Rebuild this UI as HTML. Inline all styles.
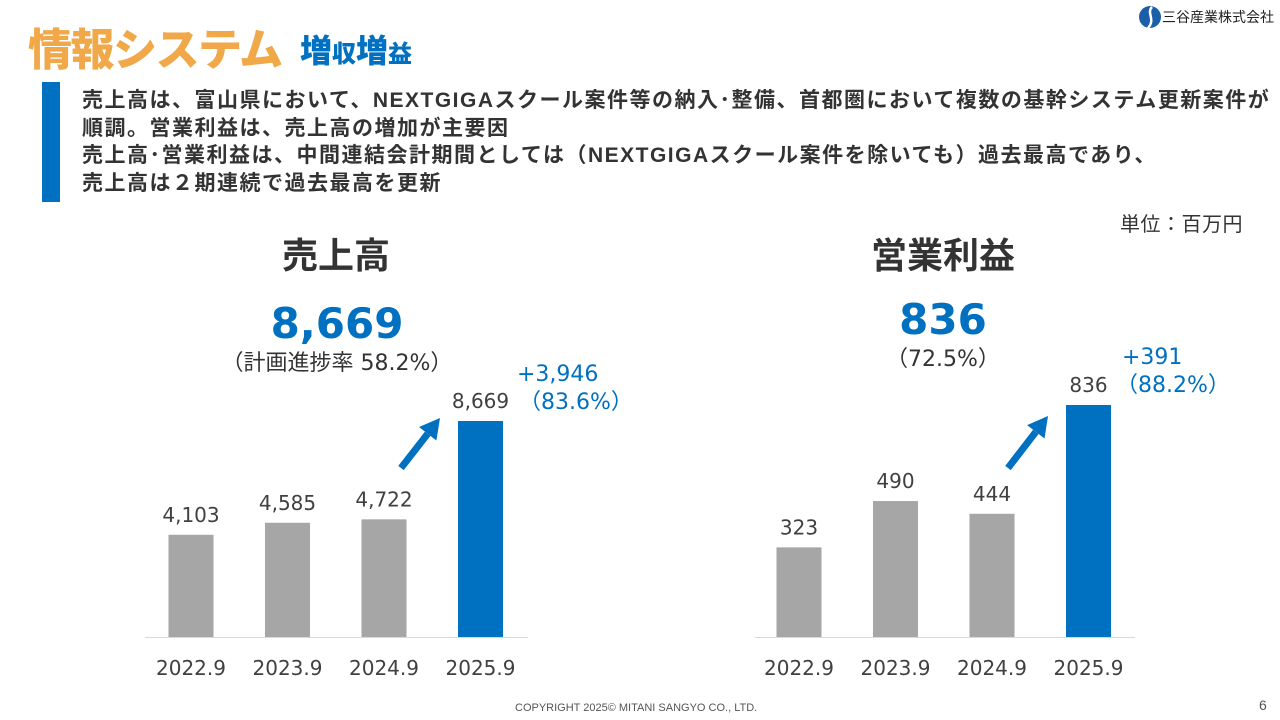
<!DOCTYPE html>
<html><head><meta charset="utf-8">
<style>
body{margin:0;width:1280px;height:720px;background:#fff;overflow:hidden;position:relative;font-family:"Liberation Sans","Noto Sans CJK JP",sans-serif}
.abs{position:absolute;white-space:nowrap}
.body{font-weight:bold;font-size:21px;letter-spacing:1.5px;color:#333;left:82px;line-height:27.7px;top:87px}
</style></head><body>
<div class="abs" style="left:28px;top:14px;font-size:44px;font-weight:900;color:#f0a848;letter-spacing:-1.5px">情報システム</div>
<div class="abs" style="left:300px;top:26px;font-weight:900;color:#0070c0;font-size:32px">増<span style="font-size:24px">収</span>増<span style="font-size:24px">益</span></div>
<div class="abs" style="left:1138px;top:5px;font-size:14px;color:#222;display:flex;align-items:center"><svg width="24" height="24" viewBox="0 0 24 24"><circle cx="12" cy="12" r="11" fill="#1a5fa8"/><path d="M14 2 C8 8 18 14 10 23" stroke="#fff" stroke-width="2.5" fill="none"/></svg>三谷産業株式会社</div>
<div class="abs" style="left:42px;top:82px;width:18px;height:120px;background:#0070c0"></div>
<div class="abs body">売上高は、富山県において、NEXTGIGAスクール案件等の納入･整備、首都圏において複数の基幹システム更新案件が<br>順調。営業利益は、売上高の増加が主要因<br>売上高･営業利益は、中間連結会計期間としては（NEXTGIGAスクール案件を除いても）過去最高であり、<br>売上高は２期連続で過去最高を更新</div>
<div class="abs" style="left:1120px;top:208px;font-size:20px;letter-spacing:0.5px;color:#333">単位：百万円</div>
<div class="abs" style="left:515px;top:702px;font-size:11px;color:#555">COPYRIGHT 2025© MITANI SANGYO CO., LTD.</div>
<div class="abs" style="left:1259px;top:697px;font-size:14px;color:#555">6</div>
<svg id="chart" width="1280" height="720" style="position:absolute;left:0;top:0"></svg>
<script>
const categories=["2022.9","2023.9","2024.9","2025.9"];
const salesValues=[4103,4585,4722,8669];
const profitValues=[323,490,444,836];
const salesLabels=["4,103","4,585","4,722","8,669"];
const profitLabels=["323","490","444","836"];
const svg=document.getElementById('chart');
const NS='http://www.w3.org/2000/svg';
function mk(tag,attrs,name,text){const e=document.createElementNS(NS,tag);for(const k in attrs)e.setAttribute(k,attrs[k]);


if(text!==undefined)e.textContent=text;svg.appendChild(e);return e;}
const NUMF='"DejaVu Sans","Liberation Sans","Noto Sans CJK JP",sans-serif';
function chart(o){
  const base=637;
  const y=v=>base-v*o.scale;
  const x=i=>o.x0+i*96.5;
  mk('line',{x1:o.ax0,x2:o.ax1,y1:base+0.5,y2:base+0.5,stroke:'#d9d9d9','stroke-width':1},o.id+'-axis');
  o.vals.forEach((v,i)=>{
    const last=i===o.vals.length-1;
    mk('rect',{x:x(i)-22.5,y:y(v),width:45,height:base-y(v),fill:last?'#0070c0':'#a6a6a6'},o.id+'-bar-'+i);
    mk('text',{x:x(i),y:y(v)-13,'text-anchor':'middle','font-size':20,fill:'#404040','font-family':NUMF},o.id+'-value-'+i,o.labels[i]);
    mk('text',{x:x(i),y:675,'text-anchor':'middle','font-size':20,fill:'#404040','font-family':NUMF},o.id+'-x-label-'+i,categories[i]);
  });
}
chart({id:'sales',vals:salesValues,labels:salesLabels,scale:216/8669,x0:191,ax0:145,ax1:528});
chart({id:'profit',vals:profitValues,labels:profitLabels,scale:232/836,x0:799,ax0:755,ax1:1135});
function arrow(x1,y1,x2,y2,name){
  const dx=x2-x1,dy=y2-y1,L=Math.hypot(dx,dy),ux=dx/L,uy=dy/L,px=-uy,py=ux;
  const hx=x2-ux*20,hy=y2-uy*20;
  mk('line',{x1:x1,y1:y1,x2:hx,y2:hy,stroke:'#0070c0','stroke-width':7},name+'-shaft');
  mk('polygon',{points:`${x2},${y2} ${hx+px*11},${hy+py*11} ${hx-px*11},${hy-py*11}`,fill:'#0070c0'},name+'-head');
}
arrow(401,468,440,418,'sales-arrow');
arrow(1008,468,1048,416,'profit-arrow');
const T=(x,y,s,sz,c,w,name,anchor,fam)=>mk('text',{x:x,y:y,'font-size':sz,fill:c,'font-weight':w||'normal','text-anchor':anchor||'middle','font-family':fam||NUMF},name,s);
T(336,268,'売上高',36,'#333','bold','sales-title','middle','"Liberation Sans","Noto Sans CJK JP",sans-serif');
T(943,268,'営業利益',36,'#333','bold','profit-title','middle','"Liberation Sans","Noto Sans CJK JP",sans-serif');
T(337,338,'8,669',42,'#0070c0','bold','sales-total');
T(943,334,'836',42,'#0070c0','bold','profit-total');
T(337,370,'（計画進捗率 58.2%）',22,'#333','normal','sales-progress','middle','"DejaVu Sans","Noto Sans CJK JP",sans-serif');
T(943,366,'（72.5%）',22,'#333','normal','profit-progress','middle','"DejaVu Sans","Noto Sans CJK JP",sans-serif');
T(517,381,'+3,946',22,'#0070c0','normal','sales-change','start');
T(519,409,'（83.6%）',22,'#0070c0','normal','sales-change-pct','start','"DejaVu Sans","Noto Sans CJK JP",sans-serif');
T(1122,364,'+391',22,'#0070c0','normal','profit-change','start');
T(1116,392,'（88.2%）',22,'#0070c0','normal','profit-change-pct','start','"DejaVu Sans","Noto Sans CJK JP",sans-serif');
</script>
</body></html>
